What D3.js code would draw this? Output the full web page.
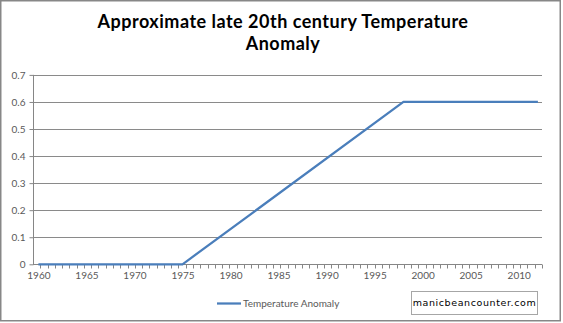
<!DOCTYPE html>
<html>
<head>
<meta charset="utf-8">
<script src="https://cdn.jsdelivr.net/npm/d3@7"></script>
<style>
  html, body { margin: 0; padding: 0; background: #fff; }
  svg { display: block; }
</style>
</head>
<body>
<svg id="chart" width="563" height="323"></svg>
<script>
// ---- data ----
const years = [1960, 1975, 1998, 2012];
const anomaly = [0, 0, 0.6, 0.6];
const xTickLabels = [1960, 1965, 1970, 1975, 1980, 1985, 1990, 1995, 2000, 2005, 2010];
const yTickValues = [0, 0.1, 0.2, 0.3, 0.4, 0.5, 0.6, 0.7];
const titleLines = ["Approximate late 20th century Temperature", "Anomaly"];
const seriesName = "Temperature Anomaly";
const watermark = "manicbeancounter.com";

const font = "Lato, 'Open Sans', sans-serif";
const svg = d3.select("#chart");

// outer border
svg.append("rect").attr("x", 0.75).attr("y", 0.75).attr("width", 559.5).attr("height", 320)
  .attr("fill", "#fff").attr("stroke", "#878787").attr("stroke-width", 1.5);

const plot = { left: 33, right: 542, top: 74.9, bottom: 264.3 };

const x = d3.scaleLinear().domain([1960, 2012]).range([38.4, 537.9]);
const y = d3.scaleLinear().domain([0, 0.7]).range([plot.bottom, plot.top]);

// gridlines
svg.append("g").selectAll("line").data(yTickValues.filter(d => d > 0)).join("line")
  .attr("x1", plot.left).attr("x2", plot.right)
  .attr("y1", d => Math.round(y(d)) + 0.5).attr("y2", d => Math.round(y(d)) + 0.5)
  .attr("stroke", "#8a8a8a").attr("stroke-width", 1);

// y axis
const yAxis = d3.axisLeft(y).tickValues(yTickValues).tickSize(4).tickPadding(4)
  .tickFormat(d => d === 0 ? "0" : d3.format(".1f")(d));
const gy = svg.append("g").attr("transform", `translate(${plot.left + 0.5},0)`).call(yAxis);
gy.select(".domain").attr("stroke", "#868686").attr("d", `M0,${plot.top}V${plot.bottom}`);
gy.selectAll(".tick line").attr("stroke", "#868686");
gy.selectAll(".tick text").attr("fill", "#595959").style("font-family", font).style("font-size", "10px");

// x axis baseline and minor ticks (category boundaries)
const nCat = 70;
const xc = d3.scaleLinear().domain([0, nCat]).range([plot.left, plot.right]);
const gx = svg.append("g");
gx.append("line").attr("x1", plot.left).attr("x2", plot.right)
  .attr("y1", Math.round(plot.bottom) + 0.5).attr("y2", Math.round(plot.bottom) + 0.5)
  .attr("stroke", "#868686");
gx.selectAll("line.tk").data(d3.range(1, nCat + 1)).join("line").attr("class", "tk")
  .attr("x1", d => Math.round(xc(d)) + 0.5).attr("x2", d => Math.round(xc(d)) + 0.5)
  .attr("y1", Math.round(plot.bottom) + 0.5).attr("y2", Math.round(plot.bottom) + 4.5)
  .attr("stroke", "#868686");
const xAxis = d3.axisBottom(x).tickValues(xTickLabels).tickSize(0).tickPadding(8).tickFormat(d3.format("d"));
const gxl = svg.append("g").attr("transform", `translate(0,${plot.bottom})`).call(xAxis);
gxl.select(".domain").remove();
gxl.selectAll(".tick text").attr("fill", "#595959").style("font-family", font).style("font-size", "10px");

// series line
const pts = years.map((yr, i) => [yr, anomaly[i]]);
svg.append("path").datum(pts)
  .attr("fill", "none").attr("stroke", "#4a7ebb").attr("stroke-width", 2.25)
  .attr("stroke-linejoin", "round")
  .attr("d", d3.line().x(d => x(d[0])).y(d => y(d[1])));

// title
const title = svg.append("text").attr("text-anchor", "middle")
  .style("font-family", font).style("font-weight", "bold").style("font-size", "18px")
  .style("letter-spacing", "0.5px").attr("fill", "#000");
title.selectAll("tspan").data(titleLines).join("tspan")
  .attr("x", 283).attr("y", (d, i) => 27.5 + i * 22.5).text(d => d);

// legend
const lg = svg.append("g");
lg.append("line").attr("x1", 217).attr("x2", 241).attr("y1", 303.5).attr("y2", 303.5)
  .attr("stroke", "#4a7ebb").attr("stroke-width", 2.25);
lg.append("text").attr("x", 243).attr("y", 307).text(seriesName)
  .attr("fill", "#595959").style("font-family", font).style("font-size", "10px");

// watermark box
svg.append("rect").attr("x", 411.5).attr("y", 291.5).attr("width", 126).attr("height", 23)
  .attr("fill", "#fff").attr("stroke", "#a6a6a6").attr("stroke-width", 1);
svg.append("text").attr("x", 474.5).attr("y", 306).attr("text-anchor", "middle")
  .style("font-family", "'DejaVu Sans', sans-serif").style("font-size", "9.5px")
  .style("letter-spacing", "0.6px").attr("fill", "#000").text(watermark);
</script>
</body>
</html>
